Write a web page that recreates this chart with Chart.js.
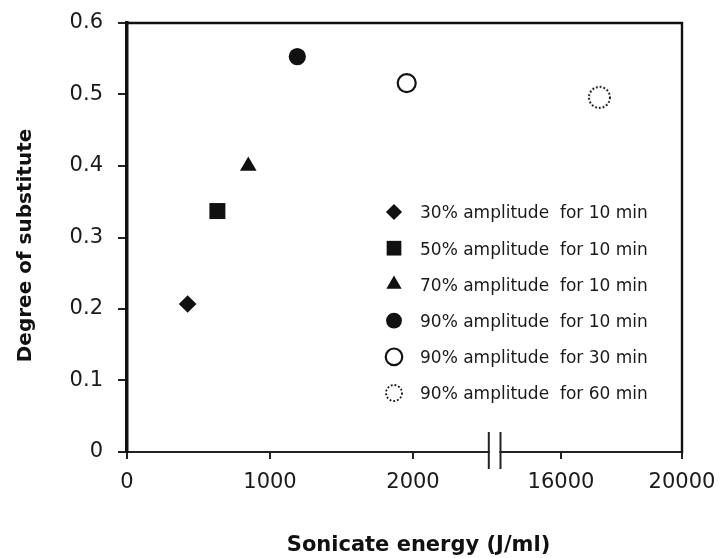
<!DOCTYPE html>
<html>
<head>
<meta charset="utf-8">
<script src="https://cdn.jsdelivr.net/npm/chart.js@4.4.1/dist/chart.umd.min.js"></script>
<style>
  html, body { margin: 0; padding: 0; background: #ffffff; }
  #wrap { width: 720px; height: 558px; }
</style>
</head>
<body>
<div id="wrap"><canvas id="dsChart" width="720" height="558"></canvas></div>
<script>
// Degree of substitution against sonication energy, one point per treatment

const seriesLabels = [
    '30% amplitude  for 10 min',
    '50% amplitude  for 10 min',
    '70% amplitude  for 10 min',
    '90% amplitude  for 10 min',
    '90% amplitude  for 30 min',
    '90% amplitude  for 60 min'
];
const energy = [424, 632, 848, 1191, 1956, 17270];      // J/ml
const degree = [0.207, 0.337, 0.400, 0.553, 0.516, 0.496];

const yTicks = [0, 0.1, 0.2, 0.3, 0.4, 0.5, 0.6];
const xLowTicks = [0, 1000, 2000];
const xHighTicks = [16000, 20000];

// broken x axis: a low segment and a high segment sharing the same width
const LOW_MIN = 0, LOW_MAX = 3881;
const HIGH_MIN = 1653, HIGH_MAX = 20000;
const BREAK_LOW = 2530, BREAK_HIGH = 14000;

const FONT = '"DejaVu Sans", sans-serif';
const INK = '#111111';

function dottedRing(r, lw) {
    const size = Math.ceil(2 * r + lw + 4);
    const c = document.createElement('canvas');
    c.width = size; c.height = size;
    const g = c.getContext('2d');
    g.strokeStyle = '#111111';
    g.lineWidth = lw;
    g.setLineDash([1.8, 2.0]);
    g.beginPath();
    g.arc(size / 2, size / 2, r, 0, Math.PI * 2);
    g.stroke();
    return c;
}

const markers = [
    { pointStyle: 'rectRot', radius: 8.8, fill: INK, borderWidth: 0 },
    { pointStyle: 'rect', radius: 11.3, fill: INK, borderWidth: 0 },
    { pointStyle: 'triangle', radius: 9.6, fill: INK, borderWidth: 0 },
    { pointStyle: 'circle', radius: 8.6, fill: INK, borderWidth: 0 },
    { pointStyle: 'circle', radius: 9, fill: '#ffffff', borderWidth: 2.2 },
    { pointStyle: dottedRing(10.5, 2), radius: 11, fill: '#ffffff', borderWidth: 0 }
];
const legendRing = dottedRing(8, 1.8);

const datasets = seriesLabels.map((label, i) => ({
    label: label,
    data: [{ x: energy[i], y: degree[i] }],
    xAxisID: energy[i] > BREAK_LOW ? 'x2' : 'x',
    pointStyle: markers[i].pointStyle,
    pointRadius: markers[i].radius,
    pointHoverRadius: markers[i].radius,
    backgroundColor: markers[i].fill,
    borderColor: INK,
    borderWidth: markers[i].borderWidth,
    showLine: false
}));

function highToLow(v) {
    return LOW_MIN + (v - HIGH_MIN) / (HIGH_MAX - HIGH_MIN) * (LOW_MAX - LOW_MIN);
}

// keep the plot box where the layout padding puts it
function noScalePadding(scale) {
    scale.paddingLeft = 0;
    scale.paddingRight = 0;
    scale.paddingTop = 0;
    scale.paddingBottom = 0;
}

const framePlugin = {
    id: 'frame',
    afterDraw(chart) {
        const { ctx, chartArea: a, scales } = chart;
        ctx.save();

        // top and right edges of the plot box
        ctx.strokeStyle = INK;
        ctx.lineWidth = 2.4;
        ctx.beginPath();
        ctx.moveTo(a.left, a.top);
        ctx.lineTo(a.right, a.top);
        ctx.lineTo(a.right, a.bottom + 1);
        ctx.stroke();

        // axis break marks
        const bx1 = scales.x.getPixelForValue(BREAK_LOW);
        const bx2 = scales.x2.getPixelForValue(BREAK_HIGH);
        ctx.fillStyle = '#ffffff';
        ctx.fillRect(bx1 + 1, a.bottom - 3, bx2 - bx1 - 2, 6);
        ctx.strokeStyle = '#222222';
        ctx.lineWidth = 2;
        [bx1, bx2].forEach(bx => {
            ctx.beginPath();
            ctx.moveTo(bx, a.bottom - 20);
            ctx.lineTo(bx, a.bottom + 17);
            ctx.stroke();
        });

        // legend inside the plot
        ctx.font = '17px ' + FONT;
        ctx.textAlign = 'left';
        ctx.textBaseline = 'alphabetic';
        seriesLabels.forEach((label, i) => {
            const cy = 212 + i * 36.2;
            const m = markers[i];
            ctx.fillStyle = m.fill;
            ctx.strokeStyle = INK;
            ctx.lineWidth = m.borderWidth;
            const style = i === 5 ? legendRing : m.pointStyle;
            Chart.helpers.drawPoint(ctx, {
                pointStyle: style,
                radius: m.radius * 0.92,
                rotation: 0,
                borderWidth: m.borderWidth
            }, 394, cy);
            ctx.fillStyle = '#1a1a1a';
            ctx.fillText(label, 420, cy + 6.3);
        });

        // axis titles
        ctx.fillStyle = INK;
        ctx.font = 'bold 21px ' + FONT;
        ctx.textAlign = 'center';
        ctx.fillText('Sonicate energy (J/ml)', (a.left + a.right) / 2 + 14, 551);

        ctx.translate(31, (a.top + a.bottom) / 2 + 8);
        ctx.rotate(-Math.PI / 2);
        ctx.font = 'bold 20px ' + FONT;
        ctx.fillText('Degree of substitute', 0, 0);

        ctx.restore();
    }
};

new Chart(document.getElementById('dsChart').getContext('2d'), {
    type: 'scatter',
    data: { datasets: datasets },
    options: {
        responsive: false,
        devicePixelRatio: 1,
        animation: false,
        layout: { padding: { top: 23, right: 38, left: 0, bottom: 0 } },
        plugins: { legend: { display: false }, tooltip: { enabled: false } },
        scales: {
            x: {
                type: 'linear',
                min: LOW_MIN,
                max: LOW_MAX,
                grid: { drawOnChartArea: false, drawTicks: true, tickLength: 7, color: '#222222', lineWidth: 2 },
                border: { display: true, color: '#222222', width: 2 },
                afterBuildTicks: scale => {
                    scale.ticks = xLowTicks.map(v => ({ value: v, real: v }))
                        .concat(xHighTicks.map(v => ({ value: highToLow(v), real: v })));
                },
                afterFit: scale => {
                    scale.height = 106;
                    noScalePadding(scale);
                },
                ticks: {
                    autoSkip: false,
                    maxRotation: 0,
                    padding: 11,
                    color: '#1a1a1a',
                    font: { family: FONT, size: 21 },
                    callback: (value, index, ticks) => String(ticks[index].real)
                }
            },
            x2: {
                type: 'linear',
                display: false,
                min: HIGH_MIN,
                max: HIGH_MAX,
                afterFit: noScalePadding
            },
            y: {
                type: 'linear',
                min: 0,
                max: 0.6,
                grid: { drawOnChartArea: false, drawTicks: true, tickLength: 9, color: '#222222', lineWidth: 2 },
                border: { display: true, color: INK, width: 3.5 },
                afterBuildTicks: scale => {
                    scale.ticks = yTicks.map(v => ({ value: v }));
                },
                afterFit: scale => {
                    scale.width = 127;
                    noScalePadding(scale);
                },
                ticks: {
                    padding: 15,
                    color: '#1a1a1a',
                    font: { family: FONT, size: 21 },
                    callback: value => String(Math.round(value * 10) / 10)
                }
            }
        }
    },
    plugins: [framePlugin]
});
</script>
</body>
</html>
